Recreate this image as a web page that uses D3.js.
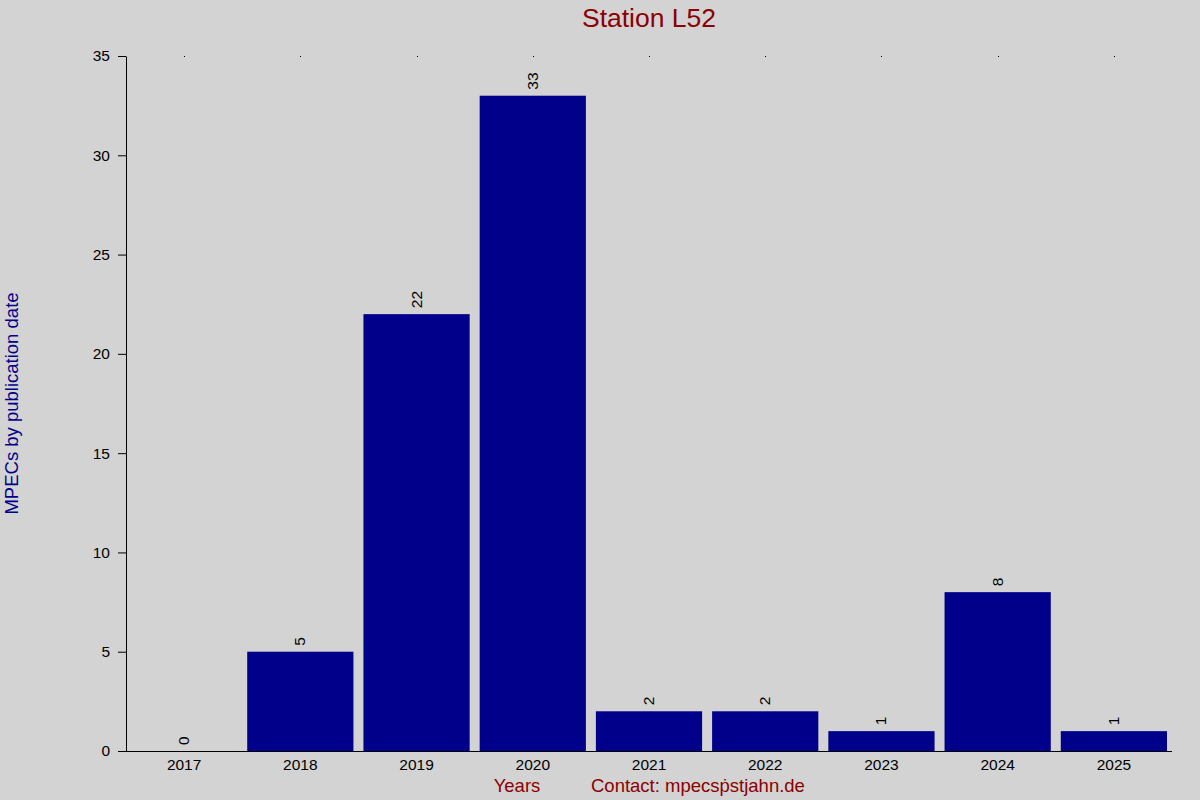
<!DOCTYPE html>
<html>
<head>
<meta charset="utf-8">
<script src="https://cdn.jsdelivr.net/npm/d3@7"></script>
<style>
  body { margin: 0; background: #d3d3d3; }
  svg { display: block; font-family: "Liberation Sans", Arial, sans-serif; }
</style>
</head>
<body>
<svg id="chart"></svg>
<script>
const years = ['2017', '2018', '2019', '2020', '2021', '2022', '2023', '2024', '2025'];
const counts = [0, 5, 22, 33, 2, 2, 1, 8, 1];
const yTicks = [0, 5, 10, 15, 20, 25, 30, 35];

const width = 1200;
const height = 800;
const margin = { top: 56, right: 28, bottom: 49, left: 126 };

const svg = d3.select('#chart')
    .attr('width', width)
    .attr('height', height);

svg.append('rect')
    .attr('width', width)
    .attr('height', height)
    .attr('fill', '#d3d3d3');

const xScale = d3.scaleBand()
    .domain(years)
    .range([margin.left, width - margin.right])
    .paddingInner(0.086)
    .paddingOuter(0.043);

const yScale = d3.scaleLinear()
    .domain([0, 35])
    .range([height - margin.bottom, margin.top]);

// bars
svg.append('g')
    .selectAll('rect')
    .data(years.map((y, i) => ({ year: y, value: counts[i] })))
    .join('rect')
    .attr('x', d => xScale(d.year))
    .attr('width', xScale.bandwidth())
    .attr('y', d => yScale(d.value))
    .attr('height', d => yScale(0) - yScale(d.value))
    .attr('fill', '#00008b');

// value labels, rotated
svg.append('g')
    .selectAll('text')
    .data(years.map((y, i) => ({ year: y, value: counts[i] })))
    .join('text')
    .attr('transform', d => {
        const x = xScale(d.year) + xScale.bandwidth() / 2 + 5;
        const y = yScale(d.value) - 6;
        return `translate(${x},${y}) rotate(-90)`;
    })
    .attr('font-size', 15.5)
    .attr('fill', '#000')
    .text(d => d.value);

// y axis
const yAxis = svg.append('g')
    .attr('transform', `translate(${margin.left},0)`)
    .call(d3.axisLeft(yScale).tickValues(yTicks).tickSize(8).tickPadding(8).tickSizeOuter(0));
yAxis.select('.domain').attr('stroke', '#000');
yAxis.selectAll('text').attr('font-size', 15.5).attr('font-family', '"Liberation Sans", Arial, sans-serif').attr('fill', '#000');

// x axis
const xAxis = svg.append('g')
    .attr('transform', `translate(0,${height - margin.bottom})`)
    .call(d3.axisBottom(xScale).tickSize(0).tickPadding(8).tickSizeOuter(0));
xAxis.select('.domain').attr('d', `M${margin.left - 8},0.5H${width - margin.right}`).attr('stroke', '#000');
xAxis.selectAll('text').attr('font-size', 15.5).attr('font-family', '"Liberation Sans", Arial, sans-serif').attr('fill', '#000');

// small top tick marks
svg.append('g')
    .selectAll('rect')
    .data(years)
    .join('rect')
    .attr('x', d => Math.round(xScale(d) + xScale.bandwidth() / 2))
    .attr('y', margin.top)
    .attr('width', 1)
    .attr('height', 1)
    .attr('fill', '#000');

// title
svg.append('text')
    .attr('x', (margin.left + width - margin.right) / 2)
    .attr('y', 27)
    .attr('text-anchor', 'middle')
    .attr('font-size', 26.5)
    .attr('fill', '#8b0000')
    .text('Station L52');

// y label
svg.append('text')
    .attr('transform', `translate(18,${(yScale(0) + yScale(35)) / 2}) rotate(-90)`)
    .attr('text-anchor', 'middle')
    .attr('font-size', 18.5)
    .attr('fill', '#00008b')
    .text('MPECs by publication date');

// footer labels
svg.append('text')
    .attr('x', 517)
    .attr('y', 792)
    .attr('text-anchor', 'middle')
    .attr('font-size', 18.5)
    .attr('fill', '#8b0000')
    .text('Years');

svg.append('text')
    .attr('x', 591)
    .attr('y', 792)
    .attr('font-size', 18.5)
    .attr('fill', '#8b0000')
    .text('Contact: mpecsṗstjahn.de');
</script>
</body>
</html>
